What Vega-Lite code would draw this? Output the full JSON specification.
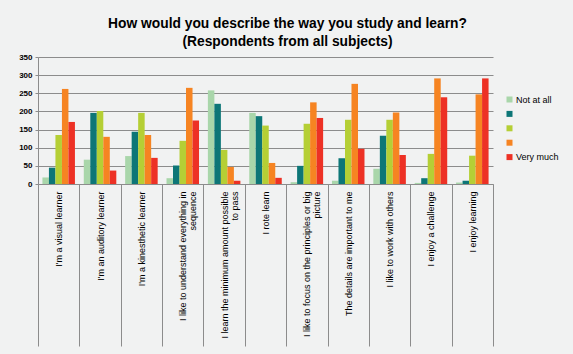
{
  "$schema": "https://vega.github.io/schema/vega-lite/v6.json",
  "width": 455,
  "height": 127,
  "autosize": "none",
  "padding": {"left": 38, "top": 57, "right": 80, "bottom": 170},
  "background": "#f1f2f2",
  "title": {
    "text": ["How would you describe the way you study and learn?", "(Respondents from all subjects)"],
    "font": "Liberation Sans",
    "fontSize": 13.8,
    "fontWeight": "bold",
    "color": "#000000",
    "lineHeight": 18,
    "anchor": "middle",
    "dx": 22,
    "offset": 4
  },
  "data": {
    "values": [
      {"q": "I'm a visual learner", "level": 1, "count": 18},
      {"q": "I'm a visual learner", "level": 2, "count": 45},
      {"q": "I'm a visual learner", "level": 3, "count": 135},
      {"q": "I'm a visual learner", "level": 4, "count": 262},
      {"q": "I'm a visual learner", "level": 5, "count": 171},
      {"q": "I'm an auditory learner", "level": 1, "count": 67},
      {"q": "I'm an auditory learner", "level": 2, "count": 196},
      {"q": "I'm an auditory learner", "level": 3, "count": 201},
      {"q": "I'm an auditory learner", "level": 4, "count": 130},
      {"q": "I'm an auditory learner", "level": 5, "count": 37},
      {"q": "I'm a kinesthetic learner", "level": 1, "count": 77},
      {"q": "I'm a kinesthetic learner", "level": 2, "count": 144},
      {"q": "I'm a kinesthetic learner", "level": 3, "count": 196},
      {"q": "I'm a kinesthetic learner", "level": 4, "count": 135},
      {"q": "I'm a kinesthetic learner", "level": 5, "count": 72},
      {"q": "I like to understand everything in sequence", "level": 1, "count": 16},
      {"q": "I like to understand everything in sequence", "level": 2, "count": 51},
      {"q": "I like to understand everything in sequence", "level": 3, "count": 119},
      {"q": "I like to understand everything in sequence", "level": 4, "count": 265},
      {"q": "I like to understand everything in sequence", "level": 5, "count": 175},
      {"q": "I learn the minimum amount possible to pass", "level": 1, "count": 258},
      {"q": "I learn the minimum amount possible to pass", "level": 2, "count": 221},
      {"q": "I learn the minimum amount possible to pass", "level": 3, "count": 94},
      {"q": "I learn the minimum amount possible to pass", "level": 4, "count": 47},
      {"q": "I learn the minimum amount possible to pass", "level": 5, "count": 9},
      {"q": "I rote learn", "level": 1, "count": 196},
      {"q": "I rote learn", "level": 2, "count": 187},
      {"q": "I rote learn", "level": 3, "count": 161},
      {"q": "I rote learn", "level": 4, "count": 58},
      {"q": "I rote learn", "level": 5, "count": 17},
      {"q": "I like to focus on the principles or big picture", "level": 1, "count": 5},
      {"q": "I like to focus on the principles or big picture", "level": 2, "count": 50},
      {"q": "I like to focus on the principles or big picture", "level": 3, "count": 166},
      {"q": "I like to focus on the principles or big picture", "level": 4, "count": 225},
      {"q": "I like to focus on the principles or big picture", "level": 5, "count": 182},
      {"q": "The details are important to me", "level": 1, "count": 9},
      {"q": "The details are important to me", "level": 2, "count": 71},
      {"q": "The details are important to me", "level": 3, "count": 177},
      {"q": "The details are important to me", "level": 4, "count": 276},
      {"q": "The details are important to me", "level": 5, "count": 97},
      {"q": "I like to work with others", "level": 1, "count": 42},
      {"q": "I like to work with others", "level": 2, "count": 133},
      {"q": "I like to work with others", "level": 3, "count": 177},
      {"q": "I like to work with others", "level": 4, "count": 197},
      {"q": "I like to work with others", "level": 5, "count": 80},
      {"q": "I enjoy a challenge", "level": 1, "count": 3},
      {"q": "I enjoy a challenge", "level": 2, "count": 16},
      {"q": "I enjoy a challenge", "level": 3, "count": 83},
      {"q": "I enjoy a challenge", "level": 4, "count": 291},
      {"q": "I enjoy a challenge", "level": 5, "count": 239},
      {"q": "I enjoy learning", "level": 1, "count": 4},
      {"q": "I enjoy learning", "level": 2, "count": 9},
      {"q": "I enjoy learning", "level": 3, "count": 78},
      {"q": "I enjoy learning", "level": 4, "count": 247},
      {"q": "I enjoy learning", "level": 5, "count": 291}
    ]
  },
  "mark": {"type": "bar"},
  "encoding": {
    "x": {
      "field": "q",
      "type": "nominal",
      "sort": null,
      "title": null,
      "scale": {"paddingInner": 0, "paddingOuter": 0},
      "axis": {
        "labelAngle": -90,
        "labelFont": "Liberation Sans",
        "labelFontSize": 9,
        "labelColor": "#000000",
        "labelLimit": 220,
        "labelLineHeight": 10,
        "labelPadding": -155,
        "tickBand": "extent",
        "tickSize": 162,
        "tickColor": "#8c8c8c",
        "domainColor": "#8c8c8c",
        "labelExpr": "datum.label == 'I like to understand everything in sequence' ? ['I like to understand everything in', 'sequence'] : datum.label == 'I learn the minimum amount possible to pass' ? ['I learn the minimum amount possible', 'to pass'] : datum.label == 'I like to focus on the principles or big picture' ? ['I like to focus on the principles or big', 'picture'] : datum.label"
      }
    },
    "xOffset": {
      "field": "level",
      "type": "nominal",
      "scale": {"paddingInner": 0, "paddingOuter": 0.68}
    },
    "y": {
      "field": "count",
      "type": "quantitative",
      "title": null,
      "scale": {"domain": [0, 350], "nice": false},
      "axis": {
        "values": [0, 50, 100, 150, 200, 250, 300, 350],
        "labelFont": "Liberation Sans",
        "labelFontSize": 8,
        "labelFontWeight": "bold",
        "labelColor": "#000000",
        "labelPadding": 3,
        "tickSize": 3,
        "tickColor": "#8c8c8c",
        "domainColor": "#8c8c8c",
        "gridColor": "#8c8c8c",
        "gridOpacity": 1
      }
    },
    "color": {
      "field": "level",
      "type": "nominal",
      "scale": {"domain": [1, 2, 3, 4, 5], "range": ["#a9d6aa", "#0d7677", "#b5cf35", "#f68422", "#ed3125"]},
      "legend": {
        "title": null,
        "orient": "none",
        "legendX": 467,
        "legendY": 38,
        "symbolType": "square",
        "symbolSize": 36,
        "symbolStrokeWidth": 0,
        "labelFont": "Liberation Sans",
        "labelFontSize": 9,
        "labelColor": "#000000",
        "labelOffset": 2,
        "rowPadding": 4.4,
        "padding": 0,
        "labelExpr": "datum.value == 1 ? 'Not at all' : datum.value == 5 ? 'Very much' : ''"
      }
    }
  },
  "config": {
    "view": {"stroke": null},
    "axis": {"grid": false},
    "axisY": {"grid": true}
  }
}
